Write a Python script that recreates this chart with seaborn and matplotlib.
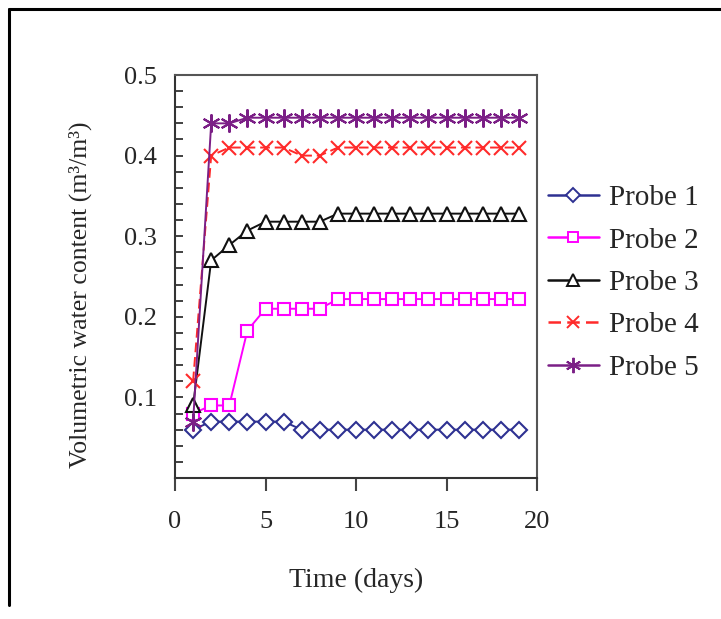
import numpy as np
import pandas as pd
import seaborn as sns
import matplotlib.pyplot as plt
from matplotlib.lines import Line2D
from matplotlib.ticker import MultipleLocator, FixedLocator

days = list(range(1, 20))
probe1 = [0.06, 0.07, 0.07, 0.07, 0.07, 0.07] + [0.06] * 13
probe2 = [0.08, 0.09, 0.09, 0.183, 0.21, 0.21, 0.21, 0.21] + [0.222] * 11
probe3 = [0.09, 0.27, 0.289, 0.307, 0.318, 0.318, 0.318, 0.318] + [0.328] * 11
probe4 = [0.12, 0.40, 0.41, 0.41, 0.41, 0.41, 0.40, 0.40] + [0.41] * 11
probe5 = [0.07, 0.44, 0.44] + [0.447] * 16
names = ["Probe 1", "Probe 2", "Probe 3", "Probe 4", "Probe 5"]
series = [probe1, probe2, probe3, probe4, probe5]

colors = ["#2e3192", "#ff00ff", "#111111", "#ff2a2a", "#7b1f86"]
markers = ["D", "s", "^", "x", (6, 2, 0)]
msizes = [8.5, 9, 10.5, 10, 13]
styles = ["-", "-", "-", (0, (5, 2.5)), "-"]

sns.set_style("ticks")
plt.rcParams["font.family"] = ["Liberation Serif", "DejaVu Serif"]

fig = plt.figure(figsize=(7.21, 6.19), dpi=100)
ax = fig.add_axes([175 / 721, 1 - 478 / 619, (537 - 175) / 721, (478 - 75) / 619])

for name, vals, c, m, ms, ls in zip(names, series, colors, markers, msizes, styles):
    df = pd.DataFrame({"day": days, "vwc": vals})
    sns.lineplot(data=df, x="day", y="vwc", ax=ax, color=c, marker=m, markersize=ms,
                 markerfacecolor="white" if m in ("D", "s", "^") else c,
                 markeredgecolor=c, markeredgewidth=1.5, linewidth=1.4,
                 linestyle=ls, label=name, legend=False)

ax.set_xlim(0, 20)
ax.set_ylim(0, 0.5)
ax.xaxis.set_major_locator(FixedLocator([0, 5, 10, 15, 20]))
ax.yaxis.set_major_locator(FixedLocator([0.1, 0.2, 0.3, 0.4, 0.5]))
ax.yaxis.set_minor_locator(MultipleLocator(0.02))
ax.set_yticklabels(["0.1", "0.2", "0.3", "0.4", "0.5"])
ax.tick_params(axis="x", direction="out", length=9, width=1.5, pad=15, labelsize=19, color="#444444")
ax.tick_params(axis="y", which="both", direction="in", length=6, width=1.3, pad=13, labelsize=19, color="#333333")
ax.tick_params(axis="y", which="minor", left=True)

for side, sp in ax.spines.items():
    sp.set_linewidth(1.5)
    sp.set_color("#555555" if side in ("top", "right") else "#333333")

ax.set_xlabel("Time (days)", fontsize=20, labelpad=25)
ax.set_ylabel("Volumetric water content (m³/m³)", fontsize=18.5)
ax.yaxis.set_label_coords(-0.228, 0.454)

handles = [Line2D([], [], color=c, marker=m, markersize=ms * 0.85,
                  markerfacecolor="white" if m in ("D", "s", "^") else c,
                  markeredgecolor=c, markeredgewidth=1.4, linewidth=1.8, linestyle=ls)
           for c, m, ms, ls in zip(colors, markers, msizes, styles)]
fig.legend(handles, names, loc="upper left", bbox_to_anchor=(536 / 721, 1 - 173 / 619),
           frameon=False, fontsize=21, handlelength=1.75, handletextpad=0.35,
           labelspacing=0.55, borderaxespad=0)

fig.add_artist(Line2D([9 / 721, 1.0], [1 - 9 / 619, 1 - 9 / 619], color="black", linewidth=2.2,
                      transform=fig.transFigure))
fig.add_artist(Line2D([9 / 721, 9 / 721], [1 - 9 / 619, 1 - 605 / 619], color="black", linewidth=2.2,
                      transform=fig.transFigure))

fig.savefig("out.png", dpi=100, facecolor="white")
